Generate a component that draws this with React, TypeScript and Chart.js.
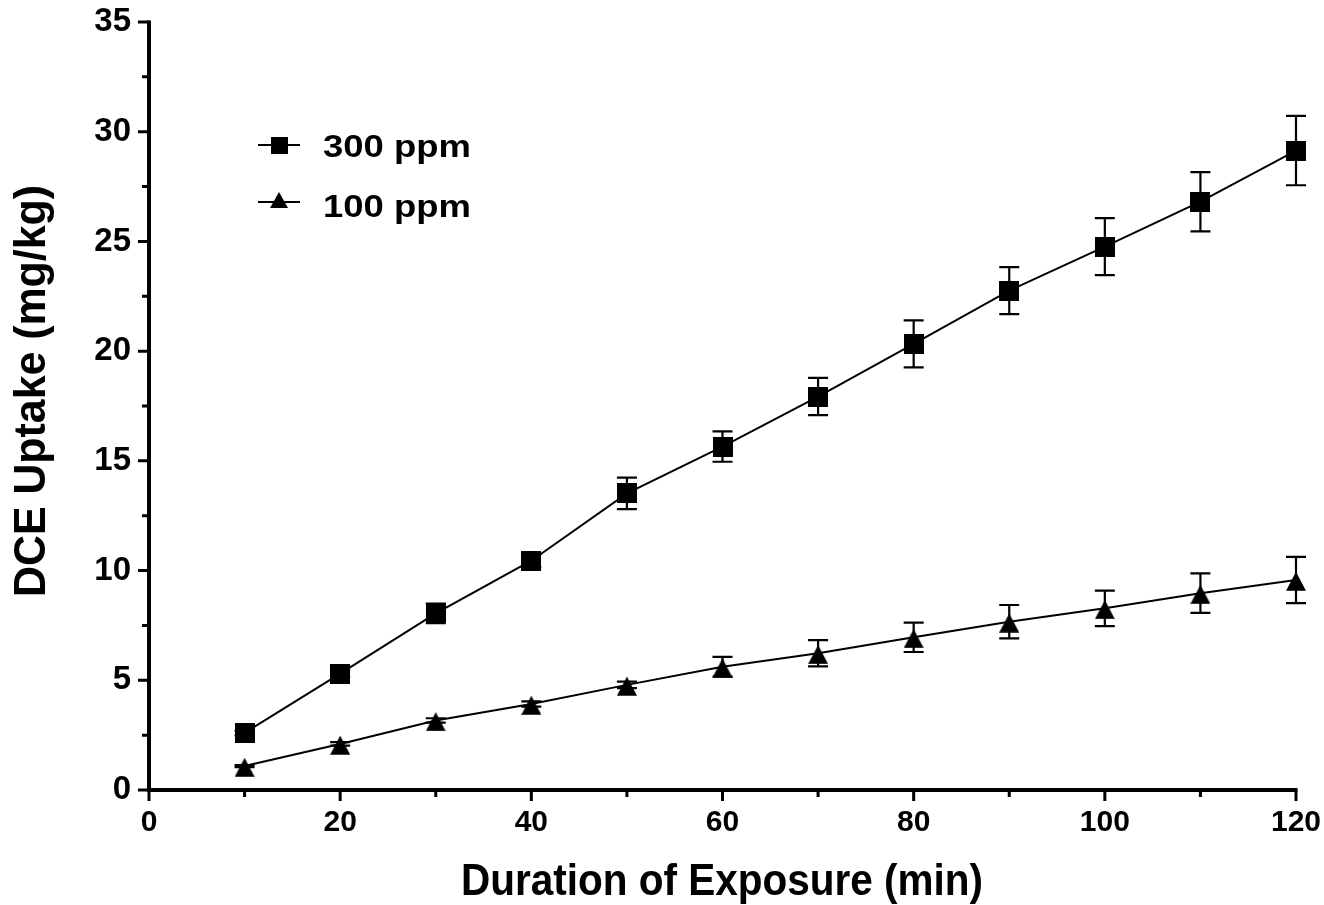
import { useEffect, useRef } from 'react';
import { Chart, registerables } from 'chart.js';

Chart.register(...registerables);

// ---- data ----
const durations = [10, 20, 30, 40, 50, 60, 70, 80, 90, 100, 110, 120];
const uptake300 = [2.6, 5.3, 8.05, 10.45, 13.52, 15.65, 17.93, 20.33, 22.76, 24.76, 26.81, 29.14];
const err300 = [0.1, 0.15, 0.45, 0.3, 0.72, 0.69, 0.85, 1.07, 1.07, 1.3, 1.35, 1.58];
const uptake100 = [1.09, 2.1, 3.17, 3.92, 4.79, 5.62, 6.23, 6.96, 7.67, 8.28, 8.97, 9.57];
const err100 = [0.05, 0.08, 0.1, 0.12, 0.15, 0.45, 0.6, 0.67, 0.76, 0.81, 0.9, 1.05];

const seriesLabels = ['300 ppm', '100 ppm'];
const xMajorTicks = [0, 20, 40, 60, 80, 100, 120];
const xMinorTicks = [10, 30, 50, 70, 90, 110];
const yMajorTicks = [0, 5, 10, 15, 20, 25, 30, 35];
const yMinorTicks = [2.5, 7.5, 12.5, 17.5, 22.5, 27.5, 32.5];
const xTitle = 'Duration of Exposure (min)';
const yTitle = 'DCE Uptake (mg/kg)';

const FONT = "'Liberation Sans', Arial, Helvetica, sans-serif";

function makeSquare(size: number) {
  const c = document.createElement('canvas');
  c.width = size;
  c.height = size;
  const g = c.getContext('2d')!;
  g.fillStyle = '#000';
  g.fillRect(0, 0, size, size);
  return c;
}

function makeTriangle(w: number, h: number, top: number, triH: number) {
  const c = document.createElement('canvas');
  c.width = w;
  c.height = h;
  const g = c.getContext('2d')!;
  g.fillStyle = '#000';
  g.beginPath();
  g.moveTo(w / 2, top);
  g.lineTo(w, top + triH);
  g.lineTo(0, top + triH);
  g.closePath();
  g.fill();
  return c;
}

function drawFitted(
  ctx: CanvasRenderingContext2D,
  text: string,
  font: string,
  cx: number,
  baseline: number,
  targetWidth: number
) {
  ctx.save();
  ctx.font = font;
  const w = ctx.measureText(text).width;
  ctx.translate(cx, baseline);
  ctx.scale(targetWidth / w, 1);
  ctx.textAlign = 'center';
  ctx.textBaseline = 'alphabetic';
  ctx.fillStyle = '#000';
  ctx.fillText(text, 0, 0);
  ctx.restore();
}

function drawFittedLeft(
  ctx: CanvasRenderingContext2D,
  text: string,
  font: string,
  left: number,
  baseline: number,
  targetWidth: number
) {
  ctx.save();
  ctx.font = font;
  const w = ctx.measureText(text).width;
  ctx.translate(left, baseline);
  ctx.scale(targetWidth / w, 1);
  ctx.textAlign = 'left';
  ctx.textBaseline = 'alphabetic';
  ctx.fillStyle = '#000';
  ctx.fillText(text, 0, 0);
  ctx.restore();
}

const errors = [err300, err100];

const errorBarPlugin = {
  id: 'errorBars',
  beforeDatasetsDraw(chart: any) {
    const { ctx, scales } = chart;
    const xs = scales.x;
    const ys = scales.y;
    ctx.save();
    ctx.strokeStyle = '#000';
    ctx.lineWidth = 2.2;
    chart.data.datasets.forEach((ds: any, i: number) => {
      const errs = errors[i];
      ds.data.forEach((pt: any, j: number) => {
        const e = errs[j];
        const px = xs.getPixelForValue(pt.x);
        const top = ys.getPixelForValue(pt.y + e);
        const bot = ys.getPixelForValue(pt.y - e);
        ctx.beginPath();
        ctx.moveTo(px, top);
        ctx.lineTo(px, bot);
        ctx.moveTo(px - 10, top);
        ctx.lineTo(px + 10, top);
        ctx.moveTo(px - 10, bot);
        ctx.lineTo(px + 10, bot);
        ctx.stroke();
      });
    });
    ctx.restore();
  },
};

const axesPlugin = {
  id: 'customAxes',
  afterDraw(chart: any) {
    const { ctx, scales } = chart;
    const xs = scales.x;
    const ys = scales.y;
    const ax = xs.getPixelForValue(0);
    const ay = ys.getPixelForValue(0);
    const xEnd = xs.getPixelForValue(120);
    const yEnd = ys.getPixelForValue(35);
    ctx.save();
    ctx.strokeStyle = '#000';
    ctx.lineCap = 'butt';
    ctx.lineWidth = 4;
    ctx.beginPath();
    ctx.moveTo(ax, yEnd - 1.5);
    ctx.lineTo(ax, ay + 2);
    ctx.moveTo(ax - 2, ay);
    ctx.lineTo(xEnd + 1.5, ay);
    ctx.stroke();
    ctx.lineWidth = 3;
    ctx.beginPath();
    yMajorTicks.forEach((v) => {
      const p = ys.getPixelForValue(v);
      ctx.moveTo(ax, p);
      ctx.lineTo(ax - 11, p);
    });
    yMinorTicks.forEach((v) => {
      const p = ys.getPixelForValue(v);
      ctx.moveTo(ax, p);
      ctx.lineTo(ax - 7, p);
    });
    xMajorTicks.forEach((v) => {
      const p = xs.getPixelForValue(v);
      ctx.moveTo(p, ay);
      ctx.lineTo(p, ay + 11);
    });
    xMinorTicks.forEach((v) => {
      const p = xs.getPixelForValue(v);
      ctx.moveTo(p, ay);
      ctx.lineTo(p, ay + 7);
    });
    ctx.stroke();
    ctx.restore();

    // axis titles
    drawFitted(ctx, xTitle, `bold 44px ${FONT}`, 722, 895, 522);
    ctx.save();
    ctx.translate(45, 391);
    ctx.rotate(-Math.PI / 2);
    drawFitted(ctx, yTitle, `bold 44px ${FONT}`, 0, 0, 412);
    ctx.restore();

    // legend
    const sq = makeSquare(17);
    const tri = makeTriangle(18, 16, 0, 16);
    ctx.save();
    ctx.strokeStyle = '#000';
    ctx.lineWidth = 2;
    const rows = [
      { y: 145, img: sq, label: seriesLabels[0], base: 157 },
      { y: 202, img: tri, label: seriesLabels[1], base: 217 },
    ];
    rows.forEach((r, i) => {
      ctx.beginPath();
      ctx.moveTo(258, r.y);
      ctx.lineTo(300, r.y);
      ctx.stroke();
      const w = r.img.width;
      const h = r.img.height;
      const dy = i === 0 ? r.y - h / 2 : r.y - 10;
      ctx.drawImage(r.img, 279 - w / 2, dy);
      drawFittedLeft(ctx, r.label, `bold 32px ${FONT}`, 323, r.base, 148);
    });
    ctx.restore();
  },
};

export default function App() {
  const ref = useRef<HTMLCanvasElement | null>(null);

  useEffect(() => {
    if (!ref.current) return;
    const squareImg = makeSquare(20);
    const triImg = makeTriangle(20, 22, 2.7, 19);
    const chart = new Chart(ref.current, {
      type: 'line',
      data: {
        datasets: [
          {
            label: seriesLabels[0],
            data: durations.map((d, i) => ({ x: d, y: uptake300[i] })),
            borderColor: '#000',
            borderWidth: 2,
            pointStyle: squareImg as any,
            pointRadius: 10,
            fill: false,
            tension: 0,
            clip: false,
          },
          {
            label: seriesLabels[1],
            data: durations.map((d, i) => ({ x: d, y: uptake100[i] })),
            borderColor: '#000',
            borderWidth: 2,
            pointStyle: triImg as any,
            pointRadius: 10,
            fill: false,
            tension: 0,
            clip: false,
          },
        ],
      },
      options: {
        animation: false,
        responsive: true,
        maintainAspectRatio: false,
        layout: { padding: { top: 22, right: 28, left: 0, bottom: 0 } },
        plugins: {
          legend: { display: false },
          tooltip: { enabled: false },
          title: { display: false },
        },
        scales: {
          x: {
            type: 'linear',
            min: 0,
            max: 120,
            afterFit: (s: any) => {
              s.height = 115;
            },
            afterBuildTicks: (s: any) => {
              s.ticks = xMajorTicks.map((v) => ({ value: v }));
            },
            ticks: {
              color: '#000',
              padding: 0,
              maxRotation: 0,
              autoSkip: false,
              font: { family: FONT, size: 30, weight: 'bold' },
            },
            grid: { display: false, drawTicks: true, tickLength: 15 },
            border: { display: false },
          },
          y: {
            type: 'linear',
            min: 0,
            max: 35,
            afterFit: (s: any) => {
              s.width = 149;
            },
            afterBuildTicks: (s: any) => {
              s.ticks = yMajorTicks.map((v) => ({ value: v }));
            },
            ticks: {
              color: '#000',
              padding: 0,
              autoSkip: false,
              font: { family: FONT, size: 33, weight: 'bold' },
            },
            grid: { display: false, drawTicks: true, tickLength: 18 },
            border: { display: false },
          },
        },
      },
      plugins: [errorBarPlugin, axesPlugin],
    });
    return () => chart.destroy();
  }, []);

  return (
    <div style={{ position: 'fixed', left: 0, top: 0, width: 1324, height: 905, background: '#fff' }}>
      <canvas ref={ref} />
    </div>
  );
}
